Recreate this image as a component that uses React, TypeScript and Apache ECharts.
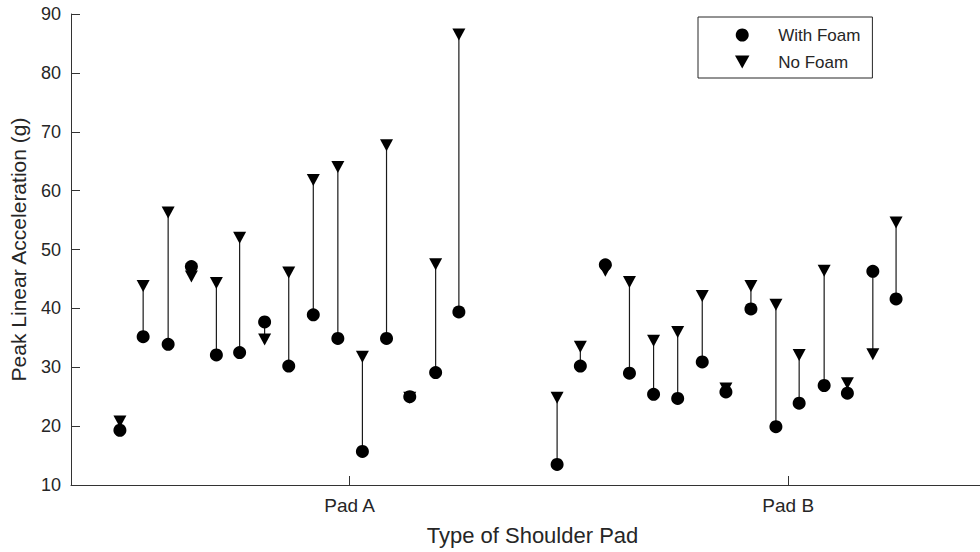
import React, { useEffect, useRef } from "react";
import * as echarts from "echarts";

// Category tick labels (Pad A at x=1, Pad B at x=2)
const padLabels = ["Pad A", "Pad B"];
const padTickValues = [1, 2];

// x positions of each impact pair
const padAX = [0.476, 0.529, 0.586, 0.639, 0.696, 0.749, 0.806, 0.861, 0.917, 0.973, 1.029, 1.084, 1.137, 1.196, 1.249];
const padBX = [1.473, 1.526, 1.583, 1.638, 1.693, 1.748, 1.804, 1.858, 1.915, 1.972, 2.025, 2.082, 2.135, 2.193, 2.246];

// Peak linear acceleration (g)
const withFoamA = [19.3, 35.2, 33.9, 47.1, 32.1, 32.5, 37.7, 30.2, 38.9, 34.9, 15.7, 34.9, 25.0, 29.1, 39.4];
const noFoamA = [20.8, 43.8, 56.3, 45.4, 44.3, 52.0, 34.7, 46.1, 61.8, 64.0, 31.8, 67.7, 24.8, 47.5, 86.5];
const withFoamB = [13.5, 30.2, 47.4, 29.0, 25.4, 24.7, 30.9, 25.8, 39.9, 19.9, 23.9, 26.9, 25.6, 46.3, 41.6];
const noFoamB = [24.8, 33.5, 46.4, 44.5, 34.5, 36.0, 42.1, 26.4, 43.8, 40.6, 32.1, 46.4, 27.3, 32.2, 54.6];

const yTicks = [10, 20, 30, 40, 50, 60, 70, 80, 90];

const FONT = "'Liberation Sans', Arial, Helvetica, sans-serif";
const TEXT = "#262626";
const TRI = "path://M0,0 L10,0 L5,9 Z";

export default function App() {
  const ref = useRef<HTMLDivElement>(null);

  useEffect(() => {
    document.body.style.margin = "0";
    if (!ref.current) return;
    const chart = echarts.init(ref.current, undefined, { renderer: "svg" });

    const xs = [...padAX, ...padBX];
    const withFoam = [...withFoamA, ...withFoamB];
    const noFoam = [...noFoamA, ...noFoamB];

    const pairs = xs.map((x, i) => [x, withFoam[i], noFoam[i]]);
    const withData = xs.map((x, i) => [x, withFoam[i]]);
    const noData = xs.map((x, i) => [x, noFoam[i]]);

    chart.setOption({
      animation: false,
      backgroundColor: "#ffffff",
      textStyle: { fontFamily: FONT },
      grid: { left: 70, top: 14, right: 0, bottom: 67, containLabel: false },
      legend: {
        data: ["With Foam", "No Foam"],
        orient: "vertical",
        left: 698,
        top: 17,
        padding: [9, 12, 7, 37],
        itemWidth: 62,
        itemHeight: 13,
        itemGap: 9,
        borderColor: TEXT,
        borderWidth: 1,
        backgroundColor: "#ffffff",
        textStyle: { fontFamily: FONT, fontSize: 17, color: TEXT, lineHeight: 18 },
      },
      xAxis: {
        type: "value",
        min: 0.36446,
        max: 2.4374,
        splitLine: { show: false },
        axisLine: { show: true, lineStyle: { color: "#333", width: 1 } },
        axisTick: {
          show: true,
          inside: true,
          length: 9,
          lineStyle: { color: "#333" },
          customValues: padTickValues,
        },
        axisLabel: {
          show: true,
          margin: 11,
          fontSize: 19,
          color: TEXT,
          fontFamily: FONT,
          customValues: padTickValues,
          formatter: (v: number) => {
            const idx = padTickValues.indexOf(Math.round(v));
            return idx >= 0 ? padLabels[idx] : "";
          },
        },
        name: "Type of Shoulder Pad",
        nameLocation: "middle",
        nameGap: 39,
        nameTextStyle: { fontSize: 22, color: TEXT, fontFamily: FONT, padding: [0, 0, 0, 14] },
      },
      yAxis: {
        type: "value",
        min: yTicks[0],
        max: yTicks[yTicks.length - 1],
        interval: 10,
        splitLine: { show: false },
        axisLine: { show: true, lineStyle: { color: "#333", width: 1 } },
        axisTick: { show: true, inside: true, length: 9, lineStyle: { color: "#333" } },
        axisLabel: { margin: 10, fontSize: 18, color: TEXT, fontFamily: FONT },
        name: "Peak Linear Acceleration (g)",
        nameLocation: "middle",
        nameGap: 42,
        nameRotate: 90,
        nameTextStyle: { fontSize: 21, color: TEXT, fontFamily: FONT },
      },
      series: [
        {
          type: "custom",
          name: "pairs",
          z: 1,
          silent: true,
          data: pairs,
          encode: { x: 0, y: [1, 2] },
          renderItem: (_params: any, api: any) => {
            const p1 = api.coord([api.value(0), api.value(1)]);
            const p2 = api.coord([api.value(0), api.value(2)]);
            return {
              type: "line",
              shape: { x1: p1[0], y1: p1[1], x2: p2[0], y2: p2[1] },
              style: { stroke: "#1a1a1a", lineWidth: 1.2 },
            };
          },
        },
        {
          type: "scatter",
          name: "No Foam",
          z: 2,
          symbol: TRI,
          symbolSize: [13, 12],
          itemStyle: { color: "#000", opacity: 1 },
          data: noData,
        },
        {
          type: "scatter",
          name: "With Foam",
          z: 3,
          symbol: "circle",
          symbolSize: 13,
          itemStyle: { color: "#000", opacity: 1 },
          data: withData,
        },
      ],
    });

    return () => chart.dispose();
  }, []);

  return (
    <div
      ref={ref}
      style={{ width: 980, height: 552, position: "fixed", left: 0, top: 0 }}
    />
  );
}
